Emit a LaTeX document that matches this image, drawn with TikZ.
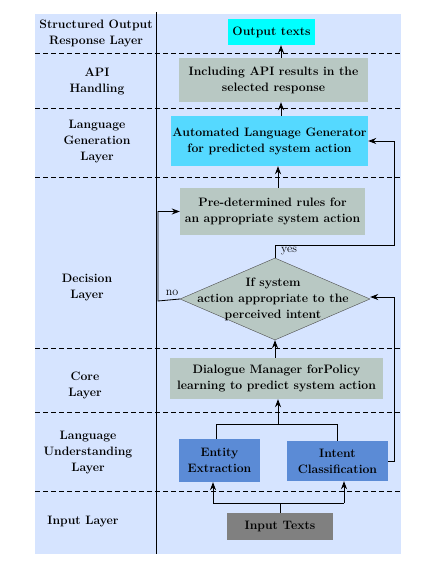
\documentclass[tikz,border=0pt]{standalone}
\usetikzlibrary{arrows.meta,shapes.geometric,calc}
\definecolor{bgC}{HTML}{D6E4FF}
\definecolor{cyanC}{HTML}{00FFFF}
\definecolor{genC}{HTML}{55D9FF}
\definecolor{grayG}{HTML}{B8C8C3}
\definecolor{blueC}{HTML}{5B8BD6}
\definecolor{inpC}{HTML}{808080}
\begin{document}
\begin{tikzpicture}[x=1pt,y=-1pt,
  box/.style={align=center, font=\fontsize{12.2}{16}\selectfont\bfseries, inner sep=0pt},
  lbl/.style={align=center, font=\fontsize{12.2}{16}\selectfont\bfseries},
  sm/.style={font=\fontsize{12}{14}\selectfont, inner sep=0pt},
  arr/.style={-{Stealth[length=8pt,width=6pt]}, line width=0.8pt},
  ln/.style={line width=0.8pt},
  sep/.style={dash pattern=on 5pt off 3pt, line width=0.7pt}]
\useasboundingbox (0,0) rectangle (433,569);
\fill[bgC] (35,14) rectangle (401,554);
\draw[ln] (156,12) -- (156,554);
\foreach \yy in {53,108,177,348,412,491} \draw[sep] (35,\yy) -- (401,\yy);

% layer labels
\node[lbl] (l1) at (96,33) {Structured Output\\Response Layer};
\node[lbl] (l2) at (97,81) {API\\Handling};
\node[lbl] (l3) at (97,142) {Language\\Generation\\Layer};
\node[lbl] (l4) at (87,288) {Decision\\Layer};
\node[lbl] (l5) at (85,385) {Core\\Layer};
\node[lbl] (l6) at (88,453) {Language\\Understanding\\Layer};
\node[lbl] (l7) at (83,522) {Input Layer};

% nodes
\node[box, fill=cyanC, minimum width=87pt, minimum height=26pt] (out) at (271.5,32) {Output texts};
\node[box, fill=grayG, minimum width=189pt, minimum height=44pt] (api) at (273.5,80) {Including API results in the\\selected response};
\node[box, fill=genC, minimum width=197pt, minimum height=50pt] (gen) at (269.5,141) {Automated Language Generator\\for predicted system action};
\node[box, fill=grayG, minimum width=185pt, minimum height=47pt] (rules) at (272.5,211.5) {Pre-determined rules for\\an appropriate system action};
\node[diamond, draw=black!70, line width=0.4pt, fill=grayG, minimum width=190pt, minimum height=82pt, inner sep=0pt] (dec) at (275,299) {};
\node[box] (dect) at (273,299) {If system\\action appropriate to the\\perceived intent};
\node[box, fill=grayG, minimum width=213pt, minimum height=41pt] (dm) at (276.5,378.5) {Dialogue Manager forPolicy\\learning to predict system action};
\node[box, fill=blueC, minimum width=81pt, minimum height=43pt] (ent) at (219.5,460.5) {Entity\\Extraction};
\node[box, fill=blueC, minimum width=101pt, minimum height=40pt] (int) at (337.5,461) {Intent\\Classification};
\node[box, fill=inpC, minimum width=106pt, minimum height=27pt] (inp) at (280,526.5) {Input Texts};

% helper coordinates
\coordinate (c281) at (281,0);
\coordinate (c278) at (278,0);
\coordinate (c344) at (344,0);
\coordinate (ybend) at (394,245);
\coordinate (nbend) at (158,301);
\coordinate (ibend) at (394,297);
\coordinate (ubend) at (216,424);
\coordinate (dbend) at (213,503);

% connectors
\draw[arr] (api.north -| c281) -- (out.south -| c281);
\draw[arr] (gen.north -| c281) -- (api.south -| c281);
\draw[arr] (rules.north -| c278) -- (gen.south -| c278);
\draw[arr] (dec.north) -- (dec.north |- ybend) -- (ybend) -- (ybend |- gen.east) -- (gen.east);
\node[sm, anchor=west] (yes) at (281,251) {yes};
\draw[arr] (dec.west) -- (nbend) -- (nbend |- rules.west) -- (rules.west);
\node[sm] (no) at (172,293) {no};
\draw[arr] (dm.north -| dec.south) -- (dec.south);
\draw[arr] (int.east) -- (int.east -| ibend) -- (ibend) -- (dec.east |- ibend);
\draw[ln] (ent.north -| ubend) -- (ubend) -- (ubend -| int.north) -- (int.north);
\draw[arr] (ubend -| c278) -- (dm.south -| c278);
\draw[ln] (inp.north) -- (inp.north |- dbend);
\draw[ln] (dbend) -- (dbend -| c344);
\draw[arr] (dbend) -- (dbend |- ent.south);
\draw[arr] (dbend -| c344) -- (c344 |- int.south);
\end{tikzpicture}
\end{document}
